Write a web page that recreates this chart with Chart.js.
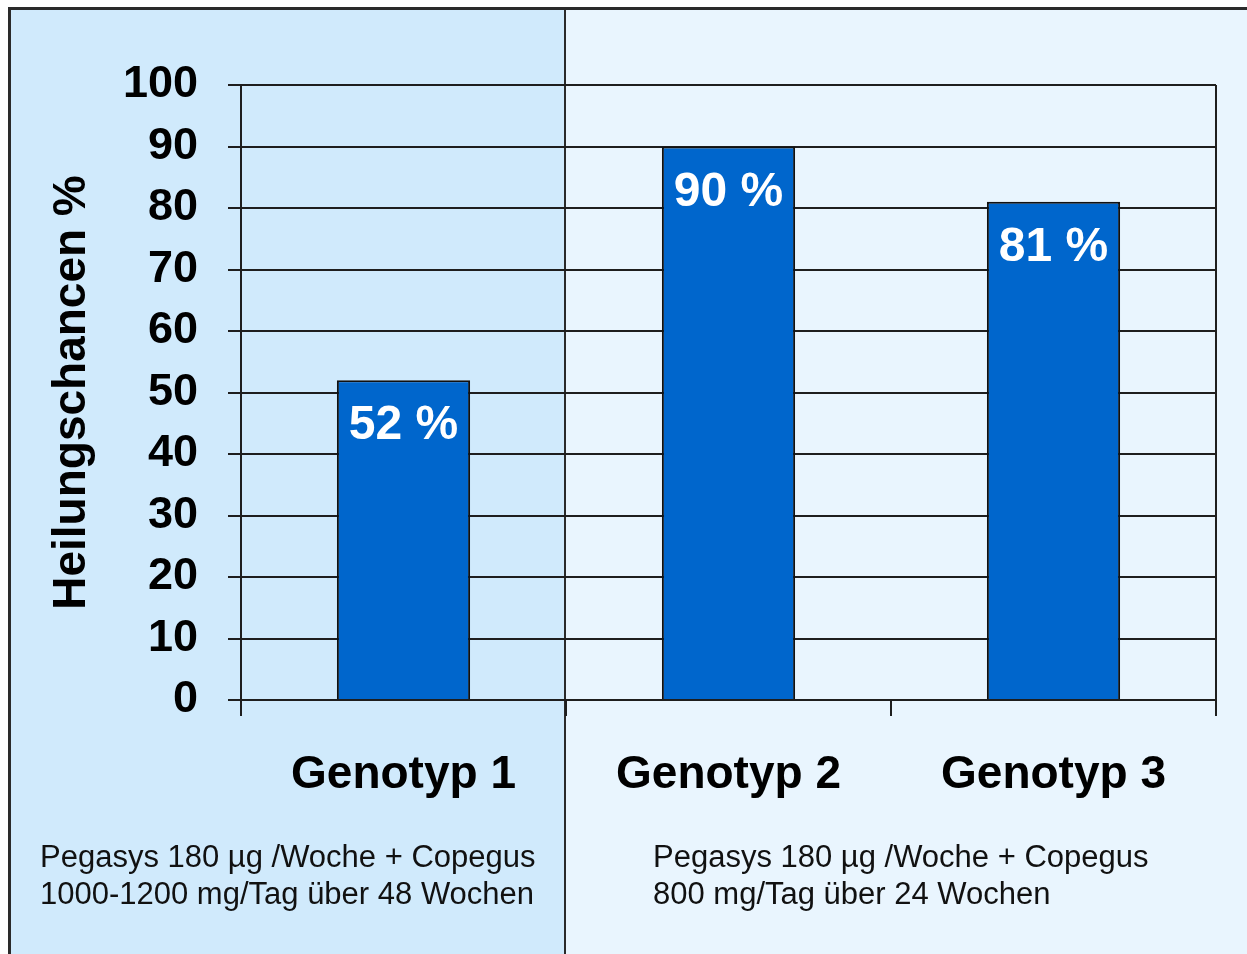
<!DOCTYPE html>
<html>
<head>
<meta charset="utf-8">
<script src="https://cdn.jsdelivr.net/npm/chart.js@4/dist/chart.umd.min.js"></script>
<style>
  html, body { margin: 0; padding: 0; background: #ffffff; width: 1247px; height: 954px; overflow: hidden; }
  #wrap { position: relative; width: 1247px; height: 954px; }
  #panelL { position: absolute; left: 8px; top: 7px; width: 556px; height: 960px; background: #D0EAFC;
            border-left: 3px solid #2a2a2a; border-top: 3px solid #2a2a2a; box-sizing: border-box; }
  #panelR { position: absolute; left: 564px; top: 7px; width: 700px; height: 960px; background: #E9F5FE;
            border-left: 2px solid #2a2a2a; border-top: 3px solid #2a2a2a; box-sizing: border-box; }
  canvas { position: absolute; left: 0; top: 0; }
  .note { position: absolute; font-family: "Liberation Sans", Arial, sans-serif; font-size: 31px;
          line-height: 37px; color: #111; white-space: nowrap; }
</style>
</head>
<body>
<div id="wrap">
  <div id="panelL"></div>
  <div id="panelR"></div>
  <canvas id="c" width="1247" height="954"></canvas>
  <div class="note" id="noteL" style="left:40px; top:838px;"></div>
  <div class="note" id="noteR" style="left:653px; top:838px;"></div>
</div>
<script>
const categories = ["Genotyp 1", "Genotyp 2", "Genotyp 3"];
const cureRates = [52, 90, 81];
const barLabels = ["52 %", "90 %", "81 %"];
const yTicks = [0, 10, 20, 30, 40, 50, 60, 70, 80, 90, 100];
const yTitle = "Heilungschancen %";
const noteLeft = ["Pegasys 180 µg /Woche + Copegus", "1000-1200 mg/Tag über 48 Wochen"];
const noteRight = ["Pegasys 180 µg /Woche + Copegus", "800 mg/Tag über 24 Wochen"];

document.getElementById('noteL').innerHTML = noteLeft.join('<br>');
document.getElementById('noteR').innerHTML = noteRight.join('<br>');

const LINE = '#1e1e1e';
const FONT = '"Liberation Sans", Arial, sans-serif';

const framePlugin = {
  id: 'frame',
  beforeDatasetsDraw(chart) {
    const { ctx, chartArea } = chart;
    ctx.save();
    ctx.strokeStyle = LINE;
    ctx.lineWidth = 2;
    ctx.beginPath();
    ctx.moveTo(chartArea.right, chartArea.top);
    ctx.lineTo(chartArea.right, chartArea.bottom);
    ctx.stroke();
    ctx.restore();
  }
};

const labelPlugin = {
  id: 'barText',
  afterDatasetsDraw(chart) {
    const { ctx } = chart;
    const meta = chart.getDatasetMeta(0);
    ctx.save();
    ctx.fillStyle = '#ffffff';
    ctx.font = 'bold 48px ' + FONT;
    ctx.textAlign = 'center';
    ctx.textBaseline = 'middle';
    meta.data.forEach((bar, i) => {
      ctx.fillText(barLabels[i], bar.x, bar.y + 46);
    });
    ctx.restore();
  }
};

new Chart(document.getElementById('c'), {
  type: 'bar',
  data: {
    labels: categories,
    datasets: [{
      data: cureRates,
      backgroundColor: '#0066CC',
      borderColor: '#111111',
      borderWidth: 2,
      barPercentage: 0.41,
      categoryPercentage: 1.0
    }]
  },
  options: {
    responsive: false,
    animation: false,
    devicePixelRatio: 1,
    layout: { padding: { left: 0, top: 85, right: 31, bottom: 0 } },
    plugins: { legend: { display: false }, tooltip: { enabled: false } },
    scales: {
      x: {
        offset: true,
        grid: { display: true, drawOnChartArea: false, drawTicks: true, tickLength: 16, color: LINE, lineWidth: 2 },
        border: { display: true, color: LINE, width: 2 },
        ticks: { color: '#000', font: { family: FONT, size: 46, weight: 'bold' }, padding: 32, maxRotation: 0 },
        afterFit(s) { s.height = 254; }
      },
      y: {
        min: 0, max: 100,
        afterBuildTicks(s) { s.ticks = yTicks.map(v => ({ value: v })); },
        grid: { color: LINE, lineWidth: 2, tickLength: 13 },
        border: { display: true, color: LINE, width: 2 },
        ticks: { color: '#000', font: { family: FONT, size: 45, weight: 'bold' }, padding: 30 },
        title: { display: true, text: yTitle, color: '#000', font: { family: FONT, size: 46, weight: 'bold' }, padding: { top: 45, bottom: 0 } },
        afterFit(s) { s.width = 241; }
      }
    }
  },
  plugins: [framePlugin, labelPlugin]
});
</script>
</body>
</html>
